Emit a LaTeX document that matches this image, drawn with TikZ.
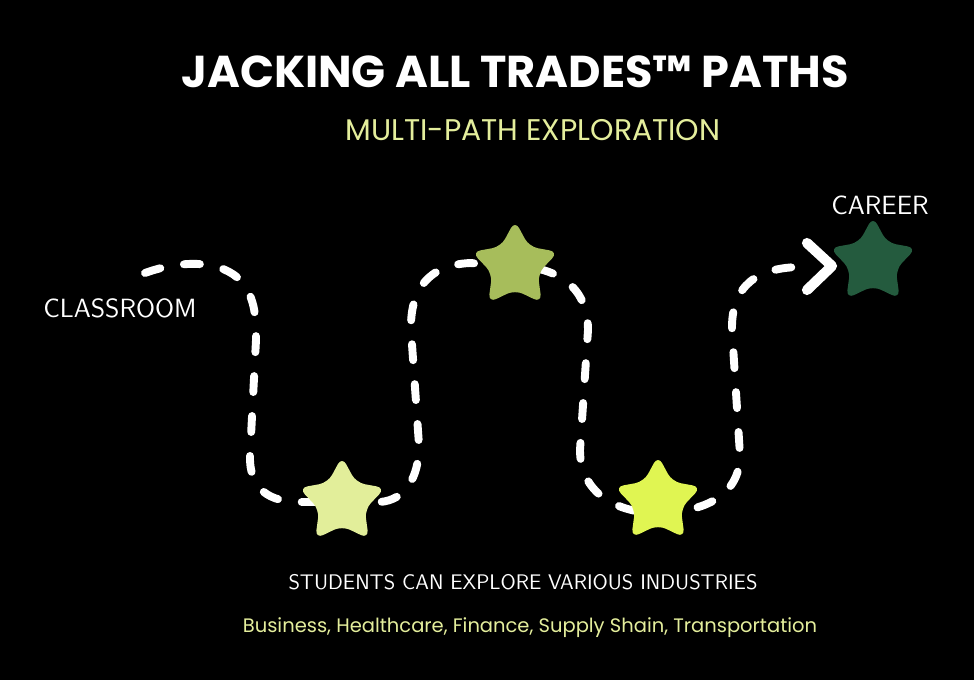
\documentclass[tikz,border=0pt]{standalone}
\usepackage{fontspec}
\setmainfont{Poppins}
\usetikzlibrary{shapes.geometric}

\definecolor{limetext}{HTML}{E4EE9C}
\definecolor{starpale}{HTML}{E2EE9A}
\definecolor{starolive}{HTML}{A7BD5B}
\definecolor{starlime}{HTML}{E0F552}
\definecolor{stardark}{HTML}{245B3E}

\tikzset{
  trail/.style={white, line width=4.5pt, line cap=round, dash pattern=on 0.32cm off 0.48cm},
  chevron/.style={white, line width=5.8pt, line cap=round, line join=round},
  pathstar/.style={star, star points=5, star point ratio=1.9, minimum size=1.82cm,
    inner sep=0pt, rounded corners=5pt},
  stoplabel/.style={white, font=\sffamily\fontsize{15}{17}\selectfont},
}

\begin{document}
\begin{tikzpicture}[x=0.02cm, y=-0.02cm, line join=round]

	% ---------- background ----------
	\fill[black] (0,0) rectangle (974,680);
	\useasboundingbox (0,0) rectangle (974,680);

	% ---------- headings ----------
	\node[white, font=\bfseries\fontsize{25.4}{30}\selectfont] (title) at (515,72)
	{JACKING ALL TRADES\texttrademark{} PATHS};
	\node[limetext, font=\fontsize{17}{20}\selectfont] (subtitle) at (533,130)
	{MULTI-PATH EXPLORATION};

	% ---------- stops along the trail ----------
	\coordinate (start) at (145,273);
	\coordinate (p1) at (342,502);
	\coordinate (p2) at (515,266);
	\coordinate (p3) at (658,501);
	\coordinate (p4) at (873,262);
	\coordinate (tip) at (832,266);

	% dashed trail (drawn under the stars)
	\draw[trail] (start) .. controls (175,262) and (215,258) .. (238,278)
	.. controls (255,295) and (256,315) .. (256,340)
	-- (250,455)
	.. controls (249,490) and (270,502) .. (300,502)
	-- (p1) -- (380,502)
	.. controls (405,500) and (419,478) .. (419,445)
	-- (411,330)
	.. controls (410,290) and (428,265) .. (470,263)
	-- (p2)
	.. controls (555,267) and (588,285) .. (588,330)
	-- (580,450)
	.. controls (580,492) and (615,512) .. (655,513)
	.. controls (700,513) and (740,498) .. (740,455)
	-- (732,330)
	.. controls (731,285) and (758,267) .. (802,267);

	% arrow head in front of the career star
	\draw[chevron] (807,243) -- (tip) -- (807,290);

	% stars
	\node[pathstar, fill=starpale] (star1) at (p1) {};
	\node[pathstar, fill=starolive] (star2) at (p2) {};
	\node[pathstar, fill=starlime] (star3) at (p3) {};
	\node[pathstar, fill=stardark] (star4) at (p4) {};

	% ---------- end labels ----------
	\node[stoplabel] (classroom) at (120,308) {CLASSROOM};
	\node[stoplabel] (career) at (880,205) {CAREER};

	% ---------- footer ----------
	\node[white, font=\sffamily\fontsize{12}{14}\selectfont] (students) at (523,582)
	{STUDENTS CAN EXPLORE VARIOUS INDUSTRIES};
	\node[limetext, font=\fontsize{11.1}{14}\selectfont] (industries) at (530,628)
	{Business, Healthcare, Finance, Supply Shain, Transportation};

\end{tikzpicture}
\end{document}
